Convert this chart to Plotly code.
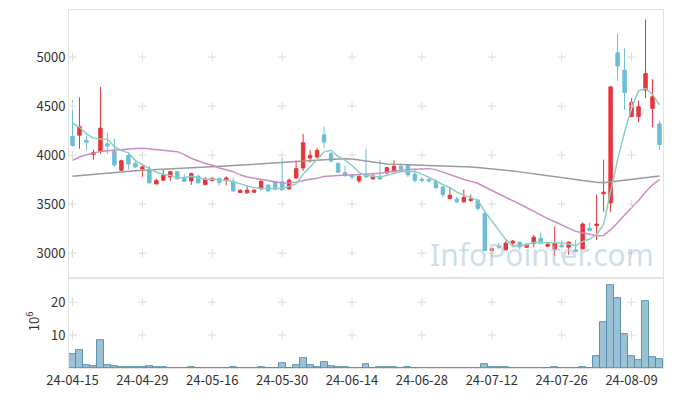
import plotly.graph_objects as go
from plotly.subplots import make_subplots

dates = ["24-04-15","24-04-16","24-04-17","24-04-18","24-04-19","24-04-22","24-04-23","24-04-24","24-04-25","24-04-26",
         "24-04-29","24-04-30","24-05-02","24-05-03","24-05-07","24-05-08","24-05-09","24-05-10","24-05-13","24-05-14",
         "24-05-16","24-05-17","24-05-20","24-05-21","24-05-22","24-05-23","24-05-24","24-05-27","24-05-28","24-05-29",
         "24-05-30","24-05-31","24-06-03","24-06-04","24-06-05","24-06-07","24-06-10","24-06-11","24-06-12","24-06-13",
         "24-06-14","24-06-17","24-06-18","24-06-19","24-06-20","24-06-21","24-06-24","24-06-25","24-06-26","24-06-27",
         "24-06-28","24-07-01","24-07-02","24-07-03","24-07-04","24-07-05","24-07-08","24-07-09","24-07-10","24-07-11",
         "24-07-12","24-07-15","24-07-16","24-07-17","24-07-18","24-07-19","24-07-22","24-07-23","24-07-24","24-07-25",
         "24-07-26","24-07-29","24-07-30","24-07-31","24-08-01","24-08-02","24-08-05","24-08-06","24-08-07","24-08-08",
         "24-08-09","24-08-12","24-08-13","24-08-14","24-08-16"]

open_ = [4190,4203,4149,4007,4041,4115,4038,3845,3997,3916,
         3859,3845,3706,3744,3777,3831,3771,3737,3784,3700,
         3740,3761,3740,3733,3619,3615,3622,3656,3693,3727,
         3727,3656,3767,3869,3970,3980,4207,4014,3913,3821,
         3794,3737,3804,3757,3784,3818,3831,3886,3896,3804,
         3754,3750,3736,3675,3558,3551,3523,3537,3540,3406,
         3027,3071,3034,3105,3111,3061,3101,3152,3071,3041,
         3081,3061,3034,3044,3253,3280,3605,3513,5044,4866,
         4392,4392,4663,4476,4318]
high = [4562,4589,4200,4055,4697,4227,4169,3953,4031,3953,
        3913,3889,3761,3852,3838,3838,3804,3821,3804,3777,
        3777,3774,3784,3771,3649,3683,3652,3750,3700,3733,
        3973,3761,3946,4217,4055,4075,4291,4031,3930,3889,
        3804,3791,4065,3818,3953,3879,3946,3913,3906,3862,
        3777,3764,3750,3683,3676,3575,3649,3598,3551,3423,
        3050,3108,3128,3135,3118,3095,3186,3209,3101,3270,
        3135,3118,3135,3314,3311,3598,3953,4696,5237,5089,
        4582,4554,5383,4774,4352]
low = [4087,4065,4048,3953,4014,4014,3879,3838,3852,3872,
       3777,3710,3700,3737,3740,3754,3727,3696,3710,3693,
       3730,3690,3693,3625,3615,3608,3615,3642,3629,3642,
       3639,3646,3761,3838,3923,3963,4075,3923,3818,3777,
       3750,3717,3771,3750,3750,3811,3825,3852,3777,3720,
       3720,3720,3660,3568,3548,3515,3517,3525,3439,3027,
       2959,3041,3027,3061,3034,3054,3061,3091,3061,2973,
       3057,2983,3013,3040,3226,3135,3422,3422,4757,4460,
       4392,4335,4582,4284,4054]
close = [4098,4291,4132,4028,4274,4092,3899,3943,3909,3879,
         3879,3717,3740,3794,3831,3757,3733,3811,3717,3754,
         3764,3720,3767,3635,3642,3642,3642,3733,3635,3649,
         3646,3744,3862,4126,3997,4048,4132,3940,3825,3794,
         3777,3784,3777,3784,3757,3872,3886,3859,3798,3744,
         3744,3737,3666,3598,3591,3523,3568,3551,3456,3027,
         3044,3061,3101,3122,3064,3091,3162,3101,3091,3101,
         3064,3112,3017,3297,3229,3297,3622,4696,4909,4639,
         4537,4494,4831,4595,4108]

ma5 = [4325,4284,4217,4173,4165,4163,4085,4047,4023,3944,
       3902,3865,3825,3802,3792,3768,3771,3785,3770,3754,
       3756,3753,3744,3728,3706,3681,3666,3659,3659,3660,
       3661,3681,3707,3805,3875,3955,4033,4049,3988,3948,
       3894,3824,3791,3783,3776,3795,3815,3832,3834,3832,
       3806,3776,3738,3698,3667,3623,3589,3566,3538,3425,
       3329,3228,3138,3071,3078,3088,3108,3108,3102,3109,
       3104,3094,3077,3118,3144,3190,3292,3628,3951,4233,
       4481,4655,4682,4619,4513]
ma20 = [3946,3980,4004,4024,4038,4044,4051,4058,4061,4068,
        4071,4065,4058,4051,4048,4035,4005,3968,3940,3914,
        3897,3869,3850,3831,3799,3777,3764,3753,3740,3728,
        3716,3718,3724,3741,3749,3763,3783,3790,3795,3797,
        3798,3801,3802,3809,3815,3826,3838,3845,3853,3858,
        3863,3862,3852,3826,3806,3779,3751,3732,3713,3675,
        3638,3602,3568,3535,3501,3462,3425,3387,3352,3320,
        3286,3255,3222,3207,3189,3178,3181,3238,3310,3391,
        3466,3537,3624,3697,3750]
ma120 = [3784,3791,3798,3804,3811,3816,3822,3828,3834,3840,
         3845,3848,3852,3855,3858,3862,3865,3869,3873,3877,
         3881,3885,3889,3893,3897,3903,3907,3911,3915,3920,
         3924,3928,3932,3937,3942,3947,3953,3958,3962,3963,
         3960,3950,3939,3928,3916,3910,3906,3904,3901,3898,
         3896,3894,3890,3889,3887,3885,3882,3879,3874,3868,
         3861,3853,3845,3837,3829,3820,3810,3800,3790,3781,
         3771,3761,3750,3740,3730,3722,3718,3726,3735,3745,
         3755,3764,3772,3780,3787]

volume = [4.3,5.4,0.9,0.6,8.5,0.9,0.7,0.3,0.3,0.3,
          0.3,0.6,0.3,0.3,0.05,0.05,0.05,0.3,0.05,0.05,
          0.05,0.05,0.05,0.3,0.05,0.05,0.05,0.3,0.05,0.05,
          1.6,0.05,0.9,3.1,0.9,0.3,1.9,0.6,0.3,0.3,
          0.05,0.05,1.2,0.05,0.3,0.3,0.3,0.05,0.3,0.05,
          0.05,0.05,0.05,0.05,0.05,0.05,0.05,0.05,0.05,1.2,
          0.3,0.3,0.3,0.05,0.05,0.05,0.05,0.05,0.05,0.3,
          0.05,0.05,0.05,0.3,0.05,3.5,13.8,25.2,21.1,10.3,
          3.5,2.3,20.2,3.2,2.6]

price_ticks = [3000, 3500, 4000, 4500, 5000]
vol_ticks = [10, 20]
date_ticks = dates[::10]

RED = "#e8353b"
BLUE = "#6bbed6"
GRID = "#dcdcdc"
FONT = "Noto Sans CJK KR"

fig = make_subplots(rows=2, cols=1, shared_xaxes=True, vertical_spacing=0,
                    row_heights=[0.749, 0.251])

fig.add_trace(go.Candlestick(
    x=dates, open=open_, high=high, low=low, close=close,
    increasing=dict(line=dict(color=RED, width=1), fillcolor=RED),
    decreasing=dict(line=dict(color=BLUE, width=1), fillcolor=BLUE),
    showlegend=False), row=1, col=1)

fig.add_trace(go.Scatter(x=dates, y=ma120, mode="lines",
                         line=dict(color="#9a9a9a", width=1.5), showlegend=False), row=1, col=1)
fig.add_trace(go.Scatter(x=dates, y=ma20, mode="lines",
                         line=dict(color="#cc8cc6", width=1.5), showlegend=False), row=1, col=1)
fig.add_trace(go.Scatter(x=dates, y=ma5, mode="lines",
                         line=dict(color="#8ccfc0", width=1.5), showlegend=False), row=1, col=1)

fig.add_trace(go.Bar(x=dates, y=volume,
                     marker=dict(color="rgba(120,172,198,0.75)",
                                 line=dict(color="rgba(80,140,170,0.9)", width=1)),
                     showlegend=False), row=2, col=1)

# grid crosses at tick intersections
fig.add_trace(go.Scatter(
    x=[d for d in date_ticks for _ in price_ticks],
    y=[p for _ in date_ticks for p in price_ticks],
    mode="markers", marker=dict(symbol="cross-thin", size=6, line=dict(width=1, color=GRID)),
    hoverinfo="skip", showlegend=False), row=1, col=1)
fig.add_trace(go.Scatter(
    x=[d for d in date_ticks for _ in vol_ticks],
    y=[p for _ in date_ticks for p in vol_ticks],
    mode="markers", marker=dict(symbol="cross-thin", size=6, line=dict(width=1, color=GRID)),
    hoverinfo="skip", showlegend=False), row=2, col=1)

axis_common = dict(showline=True, linecolor="#e3e3e3", linewidth=1, mirror=True,
                   showgrid=False, zeroline=False, ticks="", automargin=False,
                   tickfont=dict(family=FONT, size=13, color="#333333"))

fig.update_xaxes(type="category", categoryorder="array", categoryarray=dates,
                 range=[-0.5, len(dates) - 0.5],
                 rangeslider_visible=False, tickmode="array", tickangle=0,
                 tickvals=date_ticks, ticktext=date_ticks, **axis_common)
fig.update_xaxes(showticklabels=False, row=1, col=1)
fig.update_yaxes(range=[2745, 5480], tickvals=price_ticks, row=1, col=1, **axis_common)
fig.update_yaxes(range=[0, 27.3], tickvals=vol_ticks, row=2, col=1, **axis_common)

fig.add_annotation(text="InfoPointer.com", xref="paper", yref="paper",
                   x=0.989, y=0.318, xanchor="right", yanchor="middle", showarrow=False,
                   font=dict(family="Noto Sans", size=30, color="rgba(165,195,215,0.55)"))
fig.add_annotation(text="10<sup>6</sup>", xref="paper", yref="paper",
                   x=-0.061, y=0.13, xanchor="center", yanchor="middle", showarrow=False,
                   textangle=-90, font=dict(family=FONT, size=13, color="#333333"))

fig.update_layout(width=665, height=388, margin=dict(l=61, r=10, t=2, b=28, autoexpand=False),
                  paper_bgcolor="white", plot_bgcolor="white", bargap=0,
                  hovermode=False, showlegend=False)

fig.write_html("out.html")
